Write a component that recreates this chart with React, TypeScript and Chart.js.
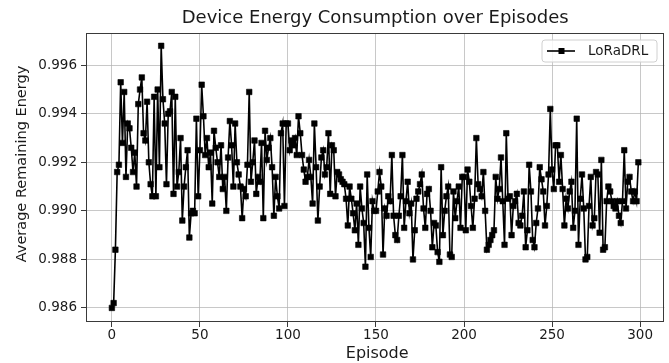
import { useEffect, useRef } from "react";
import { Chart, registerables } from "chart.js";

Chart.register(...registerables);

// Average remaining energy per episode (episodes 0..299)
const energyEp000to049 = [
  0.9860, 0.9862, 0.9884, 0.9916, 0.9919, 0.9953, 0.9928, 0.9949, 0.9914, 0.9936,
  0.9934, 0.9926, 0.9916, 0.9924, 0.9910, 0.9944, 0.9950, 0.9955, 0.9932, 0.9929,
  0.9945, 0.9920, 0.9911, 0.9906, 0.9947, 0.9906, 0.9950, 0.9918, 0.9968, 0.9946,
  0.9936, 0.9911, 0.9940, 0.9941, 0.9949, 0.9907, 0.9947, 0.9910, 0.9916, 0.9930,
  0.9896, 0.9910, 0.9918, 0.9925, 0.9889, 0.9899, 0.9900, 0.9899, 0.9938, 0.9906,
];
const energyEp050to099 = [
  0.9925, 0.9952, 0.9939, 0.9923, 0.9930, 0.9918, 0.9924, 0.9903, 0.9933, 0.9926,
  0.9920, 0.9914, 0.9927, 0.9909, 0.9914, 0.9900, 0.9922, 0.9937, 0.9927, 0.9910,
  0.9936, 0.9920, 0.9915, 0.9910, 0.9897, 0.9909, 0.9906, 0.9919, 0.9949, 0.9912,
  0.9920, 0.9929, 0.9907, 0.9914, 0.9912, 0.9928, 0.9897, 0.9933, 0.9921, 0.9926,
  0.9930, 0.9918, 0.9898, 0.9914, 0.9906, 0.9901, 0.9932, 0.9936, 0.9902, 0.9936,
];
const energyEp100to149 = [
  0.9936, 0.9925, 0.9929, 0.9927, 0.9930, 0.9923, 0.9939, 0.9932, 0.9923, 0.9917,
  0.9912, 0.9914, 0.9921, 0.9914, 0.9903, 0.9936, 0.9918, 0.9896, 0.9910, 0.9922,
  0.9925, 0.9915, 0.9918, 0.9932, 0.9907, 0.9927, 0.9925, 0.9906, 0.9916, 0.9915,
  0.9913, 0.9912, 0.9911, 0.9905, 0.9894, 0.9910, 0.9905, 0.9899, 0.9892, 0.9903,
  0.9886, 0.9910, 0.9901, 0.9895, 0.9877, 0.9915, 0.9893, 0.9881, 0.9904, 0.9900,
];
const energyEp150to199 = [
  0.9900, 0.9908, 0.9916, 0.9910, 0.9882, 0.9901, 0.9898, 0.9906, 0.9904, 0.9923,
  0.9898, 0.9890, 0.9888, 0.9898, 0.9906, 0.9923, 0.9893, 0.9904, 0.9912, 0.9899,
  0.9903, 0.9880, 0.9892, 0.9905, 0.9908, 0.9911, 0.9915, 0.9901, 0.9893, 0.9907,
  0.9909, 0.9900, 0.9885, 0.9895, 0.9894, 0.9883, 0.9879, 0.9918, 0.9890, 0.9900,
  0.9906, 0.9910, 0.9882, 0.9881, 0.9908, 0.9897, 0.9904, 0.9910, 0.9893, 0.9914,
];
const energyEp200to249 = [
  0.9914, 0.9892, 0.9917, 0.9912, 0.9902, 0.9893, 0.9905, 0.9930, 0.9911, 0.9909,
  0.9906, 0.9916, 0.9900, 0.9884, 0.9886, 0.9888, 0.9890, 0.9892, 0.9914, 0.9905,
  0.9909, 0.9922, 0.9904, 0.9886, 0.9932, 0.9905, 0.9906, 0.9890, 0.9902, 0.9904,
  0.9907, 0.9895, 0.9894, 0.9898, 0.9908, 0.9885, 0.9892, 0.9919, 0.9908, 0.9888,
  0.9885, 0.9895, 0.9901, 0.9918, 0.9913, 0.9908, 0.9894, 0.9902, 0.9915, 0.9942,
];
const energyEp250to299 = [
  0.9917, 0.9909, 0.9927, 0.9927, 0.9912, 0.9923, 0.9909, 0.9894, 0.9905, 0.9901,
  0.9908, 0.9912, 0.9893, 0.9900, 0.9938, 0.9886, 0.9905, 0.9915, 0.9901, 0.9880,
  0.9881, 0.9902, 0.9914, 0.9894, 0.9897, 0.9916, 0.9915, 0.9891, 0.9921, 0.9884,
  0.9885, 0.9904, 0.9910, 0.9908, 0.9904, 0.9902, 0.9901, 0.9904, 0.9898, 0.9895,
  0.9904, 0.9925, 0.9901, 0.9912, 0.9914, 0.9908, 0.9904, 0.9908, 0.9904, 0.9920,
];

const remainingEnergy = [
  ...energyEp000to049,
  ...energyEp050to099,
  ...energyEp100to149,
  ...energyEp150to199,
  ...energyEp200to249,
  ...energyEp250to299,
];
const episodes = remainingEnergy.map((_, i) => i);

const xTicks = [0, 50, 100, 150, 200, 250, 300];
const yTicks = [0.986, 0.988, 0.99, 0.992, 0.994, 0.996];

const seriesLabel = "LoRaDRL";
const chartTitle = "Device Energy Consumption over Episodes";
const xAxisLabel = "Episode";
const yAxisLabel = "Average Remaining Energy";

const FONT = "'DejaVu Sans', 'Liberation Sans', sans-serif";
const TEXT = "#1a1a1a";

const framePlugin = {
  id: "frameAndLabels",
  afterDatasetsDraw(chart: any) {
    const { ctx, chartArea } = chart;
    ctx.save();
    ctx.strokeStyle = "#3a3a3a";
    ctx.lineWidth = 1;
    ctx.strokeRect(
      Math.round(chartArea.left) + 0.5,
      Math.round(chartArea.top) + 0.5,
      Math.round(chartArea.right - chartArea.left) - 1,
      Math.round(chartArea.bottom - chartArea.top) - 1
    );
    ctx.restore();
  },
  afterDraw(chart: any) {
    const { ctx, chartArea } = chart;
    ctx.save();
    // axis titles
    ctx.fillStyle = TEXT;
    ctx.textAlign = "center";
    ctx.textBaseline = "middle";
    ctx.font = `16px ${FONT}`;
    ctx.fillText(xAxisLabel, (chartArea.left + chartArea.right) / 2 + 2, 354);
    ctx.save();
    ctx.translate(22, 164);
    ctx.rotate(-Math.PI / 2);
    ctx.font = `14.5px ${FONT}`;
    ctx.fillText(yAxisLabel, 0, 0);
    ctx.restore();

    // legend (upper right, inside the axes)
    const ds = chart.data.datasets[0];
    const bx = 542, by = 40, bw = 115, bh = 22, r = 3;
    ctx.beginPath();
    ctx.moveTo(bx + r, by);
    ctx.lineTo(bx + bw - r, by);
    ctx.quadraticCurveTo(bx + bw, by, bx + bw, by + r);
    ctx.lineTo(bx + bw, by + bh - r);
    ctx.quadraticCurveTo(bx + bw, by + bh, bx + bw - r, by + bh);
    ctx.lineTo(bx + r, by + bh);
    ctx.quadraticCurveTo(bx, by + bh, bx, by + bh - r);
    ctx.lineTo(bx, by + r);
    ctx.quadraticCurveTo(bx, by, bx + r, by);
    ctx.closePath();
    ctx.fillStyle = "rgba(255,255,255,0.85)";
    ctx.fill();
    ctx.strokeStyle = "#d0d0d0";
    ctx.lineWidth = 1;
    ctx.stroke();

    const ly = by + bh / 2;
    ctx.strokeStyle = "#000";
    ctx.lineWidth = 1.6;
    ctx.beginPath();
    ctx.moveTo(547, ly);
    ctx.lineTo(575, ly);
    ctx.stroke();
    ctx.fillStyle = "#000";
    ctx.fillRect(561.5 - 3, ly - 3, 6, 6);

    ctx.fillStyle = TEXT;
    ctx.textAlign = "left";
    ctx.textBaseline = "middle";
    ctx.font = `13.5px ${FONT}`;
    ctx.fillText(ds.label, 588, ly);
    ctx.restore();
  },
};

export default function App() {
  const canvasRef = useRef<HTMLCanvasElement | null>(null);

  useEffect(() => {
    document.body.style.margin = "0";
    const canvas = canvasRef.current;
    if (!canvas) return;

    const gridColor = "rgba(176,176,176,0.7)";
    const tickFont = { family: FONT, size: 13.5 };

    const chart = new Chart(canvas, {
      type: "line",
      data: {
        datasets: [
          {
            label: seriesLabel,
            data: episodes.map((x, i) => ({ x, y: remainingEnergy[i] })),
            borderColor: "#000",
            backgroundColor: "#000",
            borderWidth: 1.6,
            pointStyle: "rect",
            pointRadius: 3.9,
            pointBorderWidth: 0.6,
            pointBackgroundColor: "#000",
            pointBorderColor: "#000",
            tension: 0,
          },
        ],
      },
      options: {
        responsive: false,
        animation: false,
        events: [],
        layout: { padding: { left: 0, right: 4, top: 0, bottom: 0 } },
        plugins: {
          legend: { display: false },
          tooltip: { enabled: false },
          title: {
            display: true,
            text: chartTitle,
            fullSize: false,
            color: TEXT,
            font: { family: FONT, size: 18, weight: "normal" },
            padding: { top: 8, bottom: 3.4 },
          },
        },
        scales: {
          x: {
            type: "linear",
            min: -14.7,
            max: 313.8,
            afterBuildTicks: (scale: any) => {
              scale.ticks = xTicks.map((v) => ({ value: v }));
            },
            afterFit: (scale: any) => {
              scale.height = 41;
            },
            border: { display: false },
            grid: {
              color: gridColor,
              lineWidth: 1,
              drawTicks: true,
              tickLength: 5,
              tickColor: "#3a3a3a",
              tickWidth: 1,
            },
            ticks: {
              font: tickFont,
              color: TEXT,
              padding: 0,
              maxRotation: 0,
              autoSkip: false,
              callback: (v: any) => String(v),
            },
          },
          y: {
            type: "linear",
            min: 0.98542,
            max: 0.99733,
            afterBuildTicks: (scale: any) => {
              scale.ticks = yTicks.map((v) => ({ value: v }));
            },
            afterFit: (scale: any) => {
              scale.width = 86;
            },
            border: { display: false },
            grid: {
              color: gridColor,
              lineWidth: 1,
              drawTicks: true,
              tickLength: 5,
              tickColor: "#3a3a3a",
              tickWidth: 1,
            },
            ticks: {
              font: tickFont,
              color: TEXT,
              padding: 4,
              autoSkip: false,
              callback: (v: any) => Number(v).toFixed(3),
            },
          },
        },
      },
      plugins: [framePlugin],
    } as any);

    return () => {
      chart.destroy();
    };
  }, []);

  return (
    <div style={{ position: "absolute", left: 0, top: 0, width: 669, height: 363, background: "#fff" }}>
      <canvas ref={canvasRef} width={669} height={363} style={{ display: "block", width: 669, height: 363 }} />
    </div>
  );
}
